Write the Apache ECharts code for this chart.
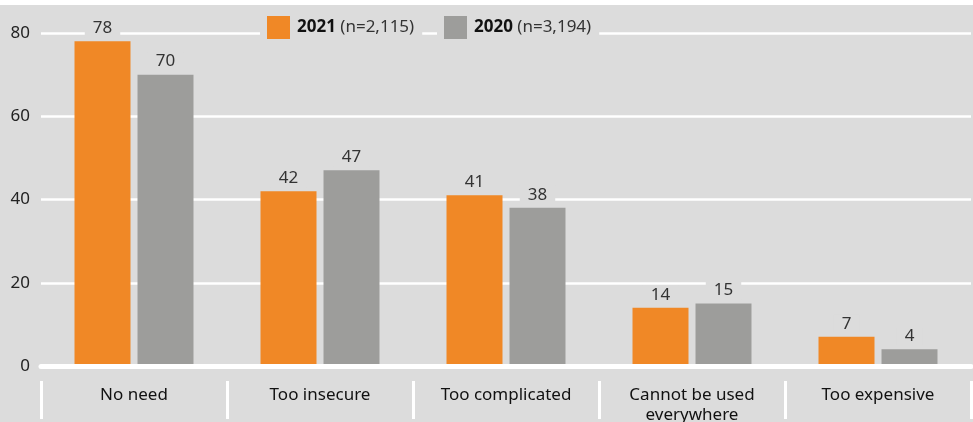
<!DOCTYPE html>
<html>
<head>
<meta charset="utf-8">
<script src="https://cdn.jsdelivr.net/npm/echarts@6/dist/echarts.min.js"></script>
<style>
  html, body { margin: 0; padding: 0; background: #ffffff; }
  #chart { width: 973px; height: 422px; }
</style>
</head>
<body>
<div id="chart"></div>
<script>
// Reasons for not using the service, share of respondents (%)
const categories = ['No need', 'Too insecure', 'Too complicated', 'Cannot be used\neverywhere', 'Too expensive'];
const values2021 = [78, 42, 41, 14, 7];
const values2020 = [70, 47, 38, 15, 4];
const yTicks = [0, 20, 40, 60, 80];
const series2021Name = '2021';
const series2020Name = '2020';
const sample2021 = '(n=2,115)';
const sample2020 = '(n=3,194)';

const ORANGE = '#f08826';
const GREY = '#9d9d9b';
const BG = '#dcdcdc';
const FONT = '"Noto Sans", "Open Sans", sans-serif';

const chart = echarts.init(document.getElementById('chart'), null, { renderer: 'canvas' });

const labelStyle = {
  show: true,
  position: 'top',
  distance: 4,
  color: '#333333',
  fontFamily: FONT,
  fontSize: 17,
  backgroundColor: BG,
  padding: [0, 8, 0, 8],
  lineHeight: 18
};

function legendFor(name, sample, left) {
  return {
    data: [name],
    left: left,
    top: 16,
    orient: 'horizontal',
    itemWidth: 23,
    itemHeight: 23,
    itemGap: 0,
    padding: [0, 8, 0, 7],
    backgroundColor: BG,
    icon: 'rect',
    selectedMode: false,
    formatter: function (n) { return '{b|' + n + '} {r|' + sample + '}'; },
    textStyle: {
      fontFamily: FONT,
      fontSize: 17,
      color: '#222222',
      padding: [0, 0, 0, 2],
      rich: {
        b: { fontFamily: FONT, fontSize: 17, fontWeight: 'bold', color: '#111111' },
        r: { fontFamily: FONT, fontSize: 17, color: '#333333' }
      }
    }
  };
}

chart.setOption({
  backgroundColor: {
    type: 'linear', x: 0, y: 0, x2: 0, y2: 1,
    colorStops: [
      { offset: 0, color: '#ffffff' },
      { offset: 5 / 422, color: '#ffffff' },
      { offset: 5 / 422, color: BG },
      { offset: 1, color: BG }
    ]
  },
  animation: false,
  textStyle: { fontFamily: FONT },
  legend: [
    legendFor(series2021Name, sample2021, 260),
    legendFor(series2020Name, sample2020, 437)
  ],
  grid: { left: 41, right: 2, top: 33, bottom: 56, containLabel: false, outerBoundsMode: 'none' },
  xAxis: [
    {
      type: 'category',
      data: categories,
      axisLine: { show: true, lineStyle: { color: '#ffffff', width: 5 } },
      axisTick: { show: false },
      axisLabel: { show: false },
      z: 3
    },
    {
      type: 'category',
      data: categories,
      position: 'bottom',
      offset: 15,
      axisLine: { show: false },
      axisTick: { show: true, length: 38, lineStyle: { color: '#ffffff', width: 3 } },
      axisLabel: {
        show: true,
        margin: 4,
        color: '#111111',
        fontFamily: FONT,
        fontSize: 17,
        lineHeight: 20,
        interval: 0
      }
    }
  ],
  yAxis: {
    type: 'value',
    min: yTicks[0],
    max: yTicks[yTicks.length - 1],
    interval: yTicks[1] - yTicks[0],
    axisLine: { show: false },
    axisTick: { show: false },
    axisLabel: {
      margin: 11,
      color: '#222222',
      fontFamily: FONT,
      fontSize: 17,
      customValues: yTicks
    },
    splitLine: { show: true, lineStyle: { color: '#ffffff', width: 2.5 } }
  },
  series: [
    {
      name: series2021Name,
      type: 'bar',
      xAxisIndex: 0,
      data: values2021,
      barWidth: 56,
      barGap: '12.5%',
      itemStyle: { color: ORANGE },
      label: labelStyle,
      z: 2
    },
    {
      name: series2020Name,
      type: 'bar',
      xAxisIndex: 0,
      data: values2020,
      barWidth: 56,
      barGap: '12.5%',
      itemStyle: { color: GREY },
      label: labelStyle,
      z: 2
    }
  ]
});
</script>
</body>
</html>
